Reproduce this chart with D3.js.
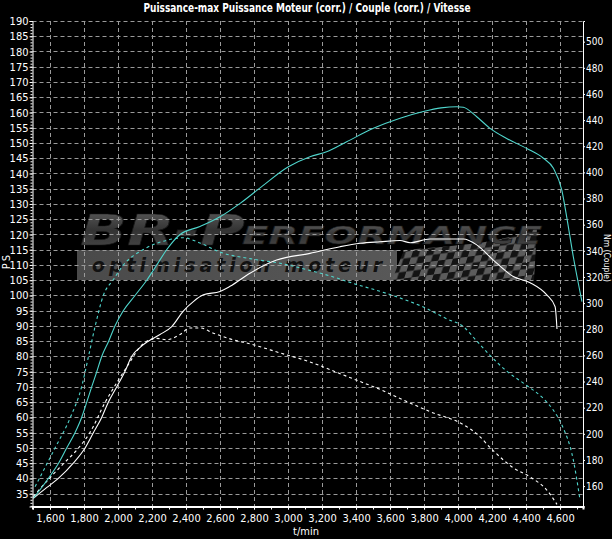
<!DOCTYPE html>
<html><head><meta charset="utf-8">
<script src="https://cdn.jsdelivr.net/npm/d3@7"></script>
<style>
html,body{margin:0;padding:0;background:#000;}
svg{display:block;}
text{font-family:"Liberation Sans Narrow","Arial Narrow","DejaVu Sans Condensed","Liberation Sans",sans-serif;}
</style></head>
<body><svg id="c" width="612" height="539"></svg>
<script>
// ---- data ----
const titleText = "Puissance-max Puissance Moteur (corr.) / Couple (corr.) / Vitesse";
const psTicks = d3.range(35, 191, 5);
const nmTicks = d3.range(160, 501, 20);
const rpmTicks = d3.range(1600, 4601, 200);

// tuned power (PS) - cyan solid
const rpmTunedPower = [1502,1590,1650,1698,1747,1786,1816,1845,1875,1904,1945,1982,2031,2100,2169,2228,2286,2365,2482,2600,2718,2845,3002,3129,3227,3345,3502,3659,3796,3900,3992,4031,4110,4188,4286,4404,4502,4561,4610,4639,4678,4729];
const psTuned       = [33.5,40,45,50,55,60,65,70,75,80,85,90,95,100,105,110,115,120,122.6,125.8,130.2,135.7,142.2,145.5,147.1,150.4,154.8,158.1,160.3,161.5,161.9,161.7,158.6,154.8,151.5,148.2,145,141.7,134.6,125.8,112.7,98];

// tuned torque (Nm) - cyan dashed
const rpmTunedTorque = [1512,1629,1718,1786,1826,1865,1914,1973,2031,2149,2286,2384,2482,2600,2776,2953,3129,3267,3384,3541,3700,3796,3933,4031,4110,4188,4286,4404,4502,4561,4610,4678,4718];
const nmTuned        = [159.5,189,212,236,259,282,306,318,329,341,348,350,346,339,334,330.5,325,320,315,309,302,297,288,282,271,260,248,237,227,218,207,180,149];

// stock power (PS) - white solid
const rpmStockPower = [1502,1580,1649,1737,1806,1855,1904,1943,1992,2040,2080,2130,2178,2247,2316,2384,2443,2502,2600,2659,2776,2933,3129,3306,3424,3541,3659,3718,3835,4031,4110,4208,4325,4424,4522,4571,4582];
const psStock       = [33.5,37,40,45,50,55,60,65,70,75,80,83,85,87.2,89.8,94.9,98,100.2,101.3,103,107.3,111.6,113.8,116,117.1,117.6,118,117.3,118.5,118.5,116.6,111.6,106.2,104.2,100.2,96.3,89];

// stock torque (Nm) - white dashed
const rpmStockTorque = [1502,1590,1678,1760,1835,1924,2002,2051,2149,2227,2286,2365,2424,2482,2561,2650,2800,2950,3129,3306,3424,3541,3659,3835,4031,4110,4208,4325,4424,4522,4582];
const nmStock        = [152,165,177,188,201,224,241,251,269,273,272,276,281,281,277,273,268,262,255,246,240,234,227,217,207,200,187,174,167,157,146];

(function(){
// ---- scales ----
const svg = d3.select("#c");
const W = 612, H = 539;
const x = d3.scaleLinear().domain([1497, 4735]).range([32.5, 583]);
const yP = d3.scaleLinear().domain([30.8, 190]).range([506.5, 21]);
const yT = d3.scaleLinear().domain([144.4, 515.8]).range([506.5, 21]);
const pLeft = 32.5, pRight = 583, pTop = 21, pBottom = 506.5;

svg.append("rect").attr("width", W).attr("height", H).attr("fill", "#000");

// ---- watermark ----
const defs = svg.append("defs");
const g1 = defs.append("linearGradient").attr("id","wmg").attr("x1",0).attr("y1",0).attr("x2",0).attr("y2",1);
g1.append("stop").attr("offset","0").attr("stop-color","#606060");
g1.append("stop").attr("offset","0.5").attr("stop-color","#333");
g1.append("stop").attr("offset","1").attr("stop-color","#4a4a4a");
const band = defs.append("linearGradient").attr("id","bandg").attr("x1",0).attr("y1",0).attr("x2",1).attr("y2",0);
band.append("stop").attr("offset","0").attr("stop-color","#4a4a4a");
band.append("stop").attr("offset","1").attr("stop-color","#585858");
const pat = defs.append("pattern").attr("id","chk").attr("patternUnits","userSpaceOnUse")
  .attr("width",14).attr("height",14).attr("patternTransform","skewX(-25) rotate(-8)");
pat.append("rect").attr("width",14).attr("height",14).attr("fill","#5c5c5c");
pat.append("rect").attr("width",7).attr("height",7).attr("fill","#141414");
pat.append("rect").attr("x",7).attr("y",7).attr("width",7).attr("height",7).attr("fill","#141414");

const wm = svg.append("g");
wm.append("rect").attr("x",77).attr("y",250).attr("width",320).attr("height",30).attr("fill","url(#bandg)");
wm.append("path").attr("d","M392,280 L404,250 L440,247 L480,243 L515,236 L537,228 L534,280 Z").attr("fill","url(#chk)");
wm.append("text").attr("x",92).attr("y",272).attr("fill","#111")
  .attr("font-size",19).attr("font-weight","bold").attr("font-style","italic")
  .attr("textLength",290).attr("lengthAdjust","spacing")
  .style("font-family","'DejaVu Sans',sans-serif")
  .text("optimisation moteur");
wm.append("text").attr("x",80).attr("y",245).attr("fill","url(#wmg)").attr("stroke","#1a1a1a").attr("stroke-width",0.6)
  .attr("font-size",42).attr("font-weight","bold").attr("font-style","italic")
  .attr("textLength",165).attr("lengthAdjust","spacingAndGlyphs")
  .style("font-family","'DejaVu Sans',sans-serif")
  .text("BR-P");
wm.append("text").attr("x",242).attr("y",244).attr("fill","url(#wmg)").attr("stroke","#1a1a1a").attr("stroke-width",0.6)
  .attr("font-size",25).attr("font-weight","bold").attr("font-style","italic")
  .attr("textLength",300).attr("lengthAdjust","spacingAndGlyphs")
  .style("font-family","'DejaVu Sans',sans-serif")
  .text("ERFORMANCE");

// ---- grid ----
const grid = svg.append("g").attr("stroke","#9a9a9a").attr("stroke-width",1).attr("stroke-dasharray","4,3").attr("fill","none");
psTicks.forEach(v => grid.append("line").attr("x1",pLeft).attr("x2",pRight)
  .attr("y1",Math.round(yP(v))+0.5).attr("y2",Math.round(yP(v))+0.5));
rpmTicks.forEach(v => grid.append("line").attr("y1",pTop).attr("y2",pBottom)
  .attr("x1",Math.round(x(v))+0.5).attr("x2",Math.round(x(v))+0.5));

// ---- curves ----
const series = [
  {rpm: rpmStockTorque, val: nmStock, y: yT, color: "#ffffff", dash: "3,3"},
  {rpm: rpmTunedTorque, val: nmTuned, y: yT, color: "#4fd5cc", dash: "3,3"},
  {rpm: rpmStockPower, val: psStock, y: yP, color: "#ffffff", dash: null},
  {rpm: rpmTunedPower, val: psTuned, y: yP, color: "#4fd5cc", dash: null}
];
series.forEach(s => {
  const pts = s.rpm.map((r,i) => [r, s.val[i]]);
  const line = d3.line().x(d => x(d[0])).y(d => s.y(d[1])).curve(d3.curveMonotoneX);
  svg.append("path").datum(pts).attr("d", line).attr("fill","none")
    .attr("stroke", s.color).attr("stroke-width", 1.1)
    .attr("stroke-dasharray", s.dash);
});

// ---- axes ----
const minorL = svg.append("g").attr("transform",`translate(${pLeft},0)`)
  .call(d3.axisLeft(yP).tickValues(d3.range(31, 191, 1)).tickSize(2).tickFormat(""));
const minorB = svg.append("g").attr("transform",`translate(0,${pBottom})`)
  .call(d3.axisBottom(x).tickValues(d3.range(1500, 4701, 100)).tickSize(3).tickFormat(""));
[minorL, minorB].forEach(a => { a.select(".domain").remove(); a.selectAll("line").attr("stroke","#fff"); });

const axL = svg.append("g").attr("transform",`translate(${pLeft},0)`)
  .call(d3.axisLeft(yP).tickValues(psTicks).tickSize(3).tickPadding(1));
const axR = svg.append("g").attr("transform",`translate(${pRight},0)`)
  .call(d3.axisRight(yT).tickValues(nmTicks).tickSize(2).tickPadding(1));
const axB = svg.append("g").attr("transform",`translate(0,${pBottom})`)
  .call(d3.axisBottom(x).tickValues(rpmTicks).tickSize(3).tickPadding(5).tickFormat(d3.format(",")));
[axL, axR, axB].forEach(a => {
  a.selectAll(".domain").attr("stroke","#fff");
  a.selectAll(".tick line").attr("stroke","#fff");
  a.selectAll("text").attr("fill","#fff").attr("font-size",11)
    .style("font-family","'Liberation Sans Narrow','Arial Narrow','DejaVu Sans Condensed',sans-serif");
});
axR.selectAll("text").attr("font-size",10);
axB.select(".domain").attr("stroke-width",2);

// axis titles
svg.append("text").attr("x",306).attr("y",535).attr("text-anchor","middle").attr("fill","#fff")
  .attr("font-size",11).text("t/min");
svg.append("text").attr("transform","translate(10,261) rotate(-90)").attr("text-anchor","middle")
  .attr("fill","#fff").attr("font-size",11).attr("letter-spacing",2).text("PS");
svg.append("text").attr("transform","translate(604,258) rotate(90)").attr("text-anchor","middle")
  .attr("fill","#fff").attr("font-size",8.5).text("Nm (Couple)");

// title
svg.append("text").attr("x",307).attr("y",12).attr("text-anchor","middle").attr("fill","#fff")
  .attr("font-size",12).attr("font-weight","bold").attr("textLength",327).attr("lengthAdjust","spacingAndGlyphs")
  .text(titleText);
})();
</script></body></html>
